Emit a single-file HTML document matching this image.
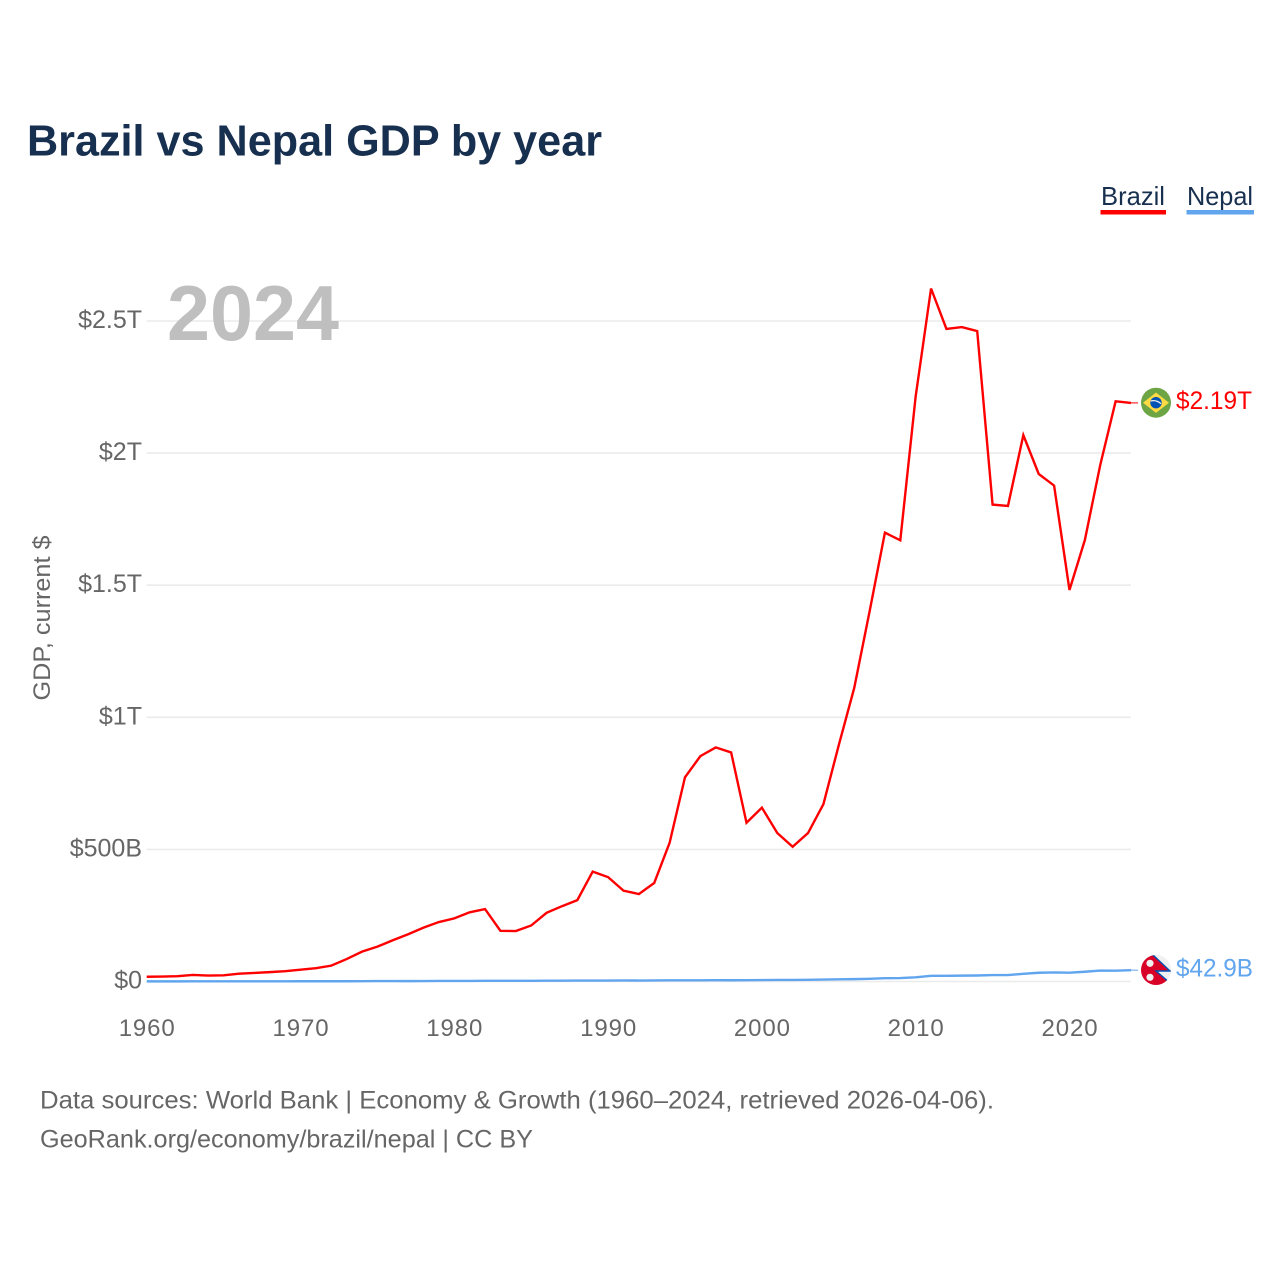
<!DOCTYPE html>
<html lang="en">
<head>
<meta charset="utf-8">
<title>Brazil vs Nepal GDP by year</title>
<style>
html,body{margin:0;padding:0;background:#fff;width:1280px;height:1280px;overflow:hidden}
svg{display:block}
text{font-family:"Liberation Sans",sans-serif}
.tick{font-size:24px;fill:#666}
.ytick{font-size:25px;fill:#666}
</style>
</head>
<body>
<svg id="chart" xmlns="http://www.w3.org/2000/svg" width="1280" height="1280" viewBox="0 0 1280 1280">
  <defs>
    <clipPath id="nepal-clip"><circle cx="1156" cy="970" r="15"/></clipPath>
  </defs>
  <text x="27" y="155.5" font-size="44" font-weight="700" fill="#18304f" textLength="575" lengthAdjust="spacingAndGlyphs">Brazil vs Nepal GDP by year</text>

  <g>
    <g>
      <text x="1101" y="205" font-size="26" fill="#18304f" textLength="64" lengthAdjust="spacingAndGlyphs">Brazil</text>
      <rect x="1100.5" y="210" width="65.5" height="4.5" fill="#ff0000"/>
    </g>
    <g>
      <text x="1187" y="205" font-size="26" fill="#18304f" textLength="66" lengthAdjust="spacingAndGlyphs">Nepal</text>
      <rect x="1186.5" y="210" width="67.5" height="4.5" fill="#60a5ee"/>
    </g>
  </g>

  <g id="grid"></g>
  <text x="167" y="340" font-size="78" font-weight="700" fill="#bfbfbf" textLength="172" lengthAdjust="spacingAndGlyphs">2024</text>
  <g id="yticks"></g>
  <g id="xticks"></g>
  <text transform="translate(50,618) rotate(-90)" text-anchor="middle" font-size="24" fill="#666" textLength="165" lengthAdjust="spacingAndGlyphs">GDP, current $</text>

  <g id="series"></g>

  <g>
    <circle cx="1156" cy="402.7" r="15" fill="#6da544"/>
    <polygon points="1156,392.5 1169,402.7 1156,412.9 1143,402.7" fill="#ffda44"/>
    <circle cx="1156" cy="402.7" r="5.7" fill="#0052b4"/>
    <path d="M1150.8 401 Q1156 399.5 1161 403.6" fill="none" stroke="#f0f0f0" stroke-width="1.3"/>
  </g>
  <g>
    <circle cx="1156" cy="970" r="15" fill="#f0f0f0"/>
    <g clip-path="url(#nepal-clip)">
      <path d="M1153 955 L1170 971 L1156 971 L1170 983 L1170 987 L1130 987 L1130 955 Z" fill="#d80027" stroke="#0052b4" stroke-width="1.4"/>
    </g>
    <circle cx="1150" cy="963.3" r="3.6" fill="#f0f0f0"/>
    <circle cx="1150" cy="977.3" r="3.6" fill="#f0f0f0"/>
  </g>

  <text x="1176" y="409" font-size="25" fill="#ff0000" textLength="76" lengthAdjust="spacingAndGlyphs">$2.19T</text>
  <text x="1176" y="976.5" font-size="25" fill="#60a5ee" textLength="77" lengthAdjust="spacingAndGlyphs">$42.9B</text>

  <g>
    <text x="40" y="1108.5" font-size="25" fill="#666" textLength="954" lengthAdjust="spacingAndGlyphs">Data sources: World Bank | Economy &amp; Growth (1960–2024, retrieved 2026-04-06).</text>
    <text x="40" y="1147.5" font-size="25" fill="#666" textLength="493" lengthAdjust="spacingAndGlyphs">GeoRank.org/economy/brazil/nepal | CC BY</text>
  </g>
</svg>
<script>
const years = [1960,1961,1962,1963,1964,1965,1966,1967,1968,1969,1970,1971,1972,1973,1974,1975,1976,1977,1978,1979,1980,1981,1982,1983,1984,1985,1986,1987,1988,1989,1990,1991,1992,1993,1994,1995,1996,1997,1998,1999,2000,2001,2002,2003,2004,2005,2006,2007,2008,2009,2010,2011,2012,2013,2014,2015,2016,2017,2018,2019,2020,2021,2022,2023,2024];
const brazilGdpBillions = [18,18.5,20,25,22.5,23.5,29.5,32.5,35.5,39,44.5,50.5,60,85,113,132,156,179,204,225,239,262,274,192,191,212,260,285,308,416,395,344,331,373,525,773,853,886,867,601,658,562,510,562,671,895,1110,1400,1699,1670,2215,2623,2470,2477,2462,1805,1800,2068,1921,1877,1482,1671,1955,2196,2190];
const nepalGdpBillions = [0.5,0.5,0.5,0.6,0.6,0.7,0.8,0.7,0.7,0.8,0.9,0.9,1,1,1.2,1.6,1.5,1.4,1.7,2,2,2.3,2.5,2.5,2.6,2.6,2.9,3,3.4,3.5,3.6,3.9,3.7,3.9,4.3,4.4,4.5,4.8,4.7,4.9,5.5,6,6,6.3,7.3,8.1,9,10.3,12.5,12.9,16,21.7,21.7,22.2,22.7,24.4,24.5,28.9,33.1,34.2,33.4,36.9,41.2,40.9,42.9];
const yTickValues = [0,500,1000,1500,2000,2500];
const yTickLabels = ["$0","$500B","$1T","$1.5T","$2T","$2.5T"];
const xTickValues = [1960,1970,1980,1990,2000,2010,2020];
const xTickLabels = ["1960","1970","1980","1990","2000","2010","2020"];

const SVG_NS = "http://www.w3.org/2000/svg";
const plot = {left:146.7, right:1131, zero:981.5, pxPerBillion:0.2642};
function xScale(year){
  return plot.left + (year - years[0]) * (plot.right - plot.left) / (years[years.length-1] - years[0]);
}
function yScale(value){
  return plot.zero - value * plot.pxPerBillion;
}
function make(tag, parent, attrs){
  const el = document.createElementNS(SVG_NS, tag);
  for (const k in attrs) el.setAttribute(k, attrs[k]);
  parent.appendChild(el);
  return el;
}

const gridGroup = document.getElementById("grid");
const yGroup = document.getElementById("yticks");
yTickValues.forEach(function(v, i){
  const line = make("line", gridGroup, {x1:plot.left, x2:plot.right, y1:yScale(v), y2:yScale(v), stroke:"#ebebeb", "stroke-width":1.6});
  
  
  const label = make("text", yGroup, {x:142, y:yScale(v)+7, "text-anchor":"end", "class":"ytick"});
  
  
  label.textContent = yTickLabels[i];
});

const xGroup = document.getElementById("xticks");
xTickValues.forEach(function(v, i){
  const label = make("text", xGroup, {x:xScale(v)+0.5, y:1036, "text-anchor":"middle", "class":"tick", "letter-spacing":"0.9"});
  
  
  label.textContent = xTickLabels[i];
});

const seriesGroup = document.getElementById("series");
function drawSeries(values, color, name){
  const d = values.map(function(v, i){
    return (i ? "L" : "M") + xScale(years[i]).toFixed(2) + " " + yScale(v).toFixed(2);
  }).join(" ");
  const path = make("path", seriesGroup, {d:d, fill:"none", stroke:color, "stroke-width":2.4, "stroke-linejoin":"miter"});
  
  
  const last = yScale(values[values.length-1]);
  const connector = make("line", seriesGroup, {x1:plot.right, y1:last, x2:plot.right+7, y2:last, stroke:color, "stroke-width":1});
  
  
}
drawSeries(brazilGdpBillions, "#ff0000", "line-brazil");
drawSeries(nepalGdpBillions, "#60a5ee", "line-nepal");
</script>
</body>
</html>
